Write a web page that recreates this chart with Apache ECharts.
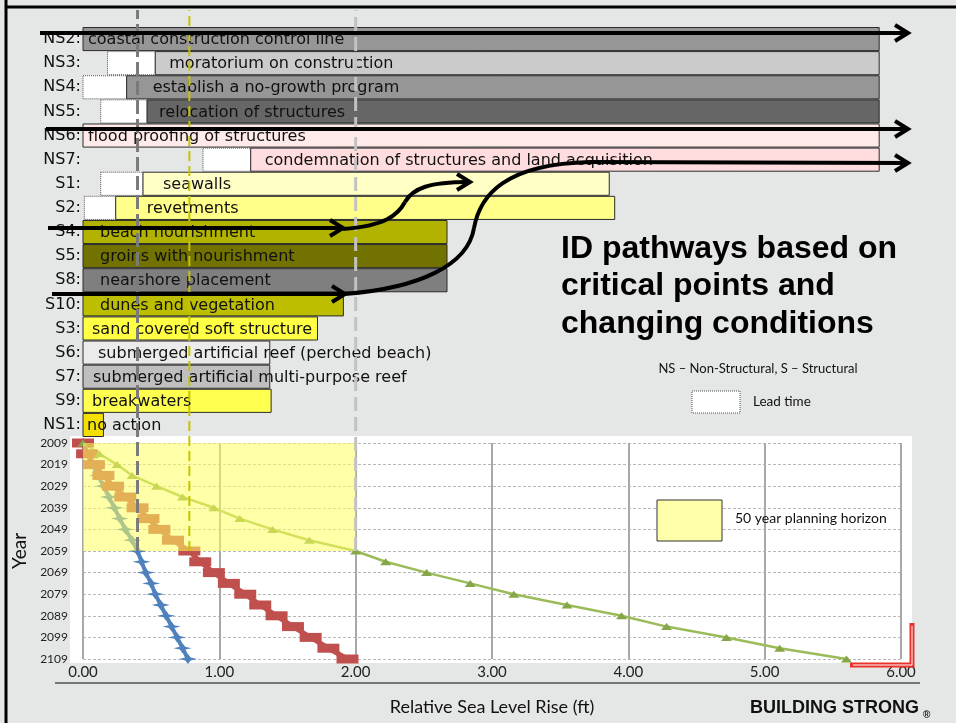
<!DOCTYPE html>
<html><head><meta charset="utf-8">
<script src="https://cdn.jsdelivr.net/npm/echarts@6/dist/echarts.min.js"></script>
<style>html,body{margin:0;padding:0;background:#e5e7e6;}#c{width:956px;height:723px;}</style>
</head><body><div id="c"></div>
<script>
// ---------- data ----------
const rowCodes = ['NS2','NS3','NS4','NS5','NS6','NS7','S1','S2','S4','S5','S8','S10','S3','S6','S7','S9','NS1'];
const rowNames = ['coastal construction control line','moratorium on construction','establish a no-growth program','relocation of structures','flood proofing of structures','condemnation of structures and land acquisition','seawalls','revetments','beach nourishment','groins with nourishment','nearshore placement','dunes and vegetation','sand covered soft structure','submerged artificial reef (perched beach)','submerged artificial multi-purpose reef','breakwaters','no action'];
const leadStart = [null,0.18,0.00,0.13,null,0.88,0.13,0.01,null,null,null,null,null,null,null,null,null];
const barStart  = [0,0.53,0.32,0.47,0,1.23,0.44,0.24,0,0,0,0,0,0,0,0,0];
const barEnd    = [5.84,5.84,5.84,5.84,5.84,5.84,3.86,3.90,2.67,2.67,2.67,1.91,1.72,1.37,1.37,1.38,0.15];

const years    = [2009,2014,2019,2024,2029,2034,2039,2044,2049,2054,2059,2064,2069,2074,2079,2084,2089,2094,2099,2104,2109];
const lowRise  = [0,0.03,0.07,0.11,0.15,0.19,0.23,0.27,0.31,0.36,0.40,0.43,0.46,0.50,0.53,0.57,0.61,0.65,0.69,0.73,0.77];
const intRise  = [0,0.03,0.08,0.15,0.22,0.31,0.40,0.48,0.56,0.66,0.78,0.86,0.96,1.07,1.19,1.30,1.42,1.54,1.67,1.80,1.94];
const highRise = [0,0.12,0.25,0.36,0.54,0.73,0.96,1.15,1.39,1.66,2.00,2.22,2.52,2.84,3.16,3.55,3.95,4.28,4.72,5.11,5.60];
const yearTicks = [2009,2019,2029,2039,2049,2059,2069,2079,2089,2099,2109];
const riseTicks = ['0.00','1.00','2.00','3.00','4.00','5.00','6.00'];
const horizonYear = 2059;

// ---------- styles ----------
const barColors = ['#969696','#cbcbcb','#969696','#666666','#ffeaea','#ffdcdd','#ffffc6','#ffff8a','#b2b200','#727200','#7f7f7f','#bebe00','#ffff44','#ebebeb','#bfbfbf','#ffff50','#f3e000'];
const labelIndent = [5,14,26,12,5,14,20,31,17,17,17,17,9,15,10,9,4];
const base = years[0];
const hIdx = years.indexOf(horizonYear);

const chart = echarts.init(document.getElementById('c'));
const rowData = rowCodes.map((c,i)=>[i, leadStart[i]==null?barStart[i]:leadStart[i], barStart[i], barEnd[i]]);
const toXY = arr => years.map((y,k)=>[arr[k], y-base]);

function renderRow(params, api){
  const i = api.value(0), ls = api.value(1), bs = api.value(2), be = api.value(3);
  const h = api.size([0,1])[1];
  const pL = api.coord([ls,i]), p0 = api.coord([bs,i]), p1 = api.coord([be,i]);
  const top = p0[1]-h/2+0.5, hh = h-1;
  const ch = [];
  if (bs > ls) ch.push({type:'rect',shape:{x:pL[0],y:top,width:p0[0]-pL[0],height:hh},style:{fill:'#ffffff',stroke:'#555',lineWidth:1,lineDash:[1,1]}});
  ch.push({type:'rect',shape:{x:p0[0],y:top,width:p1[0]-p0[0],height:hh},style:{fill:barColors[i],stroke:'#2b2b2b',lineWidth:1}});
  ch.push({type:'text',style:{text:rowNames[i],x:p0[0]+labelIndent[i],y:p0[1]+1,verticalAlign:'middle',align:'left',font:'16px "DejaVu Sans"',fill:'#111'}});
  return {type:'group',children:ch};
}
function renderHorizon(params, api){
  const a = api.coord([api.value(0), api.value(1)]);
  const b = api.coord([api.value(2), api.value(3)]);
  return {type:'rect',shape:{x:a[0],y:a[1],width:b[0]-a[0],height:b[1]-a[1]},style:{fill:'rgba(255,255,95,0.55)'}};
}

const starPath = 'path://M0,5 L7,3.6 L10,0 L13,3.6 L20,5 L13,6.4 L10,10 L7,6.4 Z';
const critLine = (x,color,width,dash)=>({type:'line',xAxisIndex:2,yAxisIndex:2,data:[[x,0],[x,1]],symbol:'none',silent:true,z:6,
  lineStyle:{color:color,width:width,type:dash}});

const stroke = {stroke:'#000',lineWidth:4,fill:null};
function arrowHead(tx,ty){return {type:'polyline',z:60,shape:{points:[[tx-13,ty-8],[tx,ty],[tx-13,ty+8]]},style:Object.assign({lineJoin:'miter'},stroke)};}
function seg(x1,y1,x2,y2){return {type:'line',z:60,shape:{x1,y1,x2,y2},style:stroke};}
function bez(x1,y1,cpx1,cpy1,cpx2,cpy2,x2,y2){return {type:'bezierCurve',z:60,shape:{x1,y1,cpx1,cpy1,cpx2,cpy2,x2,y2},style:stroke};}

const font1 = 'Lato';
chart.setOption({
  animation:false,
  backgroundColor:'#e5e7e6',
  grid:[
    {left:83,right:55,top:27,height:410},
    {left:83,right:55,top:443,height:216},
    {left:83,right:55,top:10,height:541}
  ],
  xAxis:[
    {gridIndex:0,type:'value',min:0,max:6,show:false},
    {gridIndex:1,type:'value',min:0,max:6,interval:1,
      axisLine:{show:false},axisTick:{show:false},
      axisLabel:{formatter:v=>riseTicks[Math.round(v)],fontFamily:font1,fontSize:15,color:'#222',margin:6},
      splitLine:{lineStyle:{color:'#a8a8a8',width:2}},
      name:'Relative Sea Level Rise (ft)',nameLocation:'middle',nameGap:39,
      nameTextStyle:{fontFamily:font1,fontSize:18,color:'#111'}},
    {gridIndex:2,type:'value',min:0,max:6,show:false}
  ],
  yAxis:[
    {gridIndex:0,type:'category',data:rowCodes,inverse:true,
      axisLine:{show:false},axisTick:{show:false},splitLine:{show:false},
      axisLabel:{formatter:v=>v+':',fontFamily:'DejaVu Sans',fontSize:16,color:'#111',margin:2}},
    {gridIndex:1,type:'value',min:0,max:100,interval:10,inverse:true,
      axisLine:{show:false},axisTick:{show:false},
      axisLabel:{formatter:v=>String(yearTicks[Math.round(v/10)]),fontFamily:font1,fontSize:12,color:'#222',margin:15},
      splitLine:{lineStyle:{color:'#b8b8b8',width:1,type:[3,2]}},
      name:'Year',nameLocation:'middle',nameGap:53,nameRotate:90,
      nameTextStyle:{fontFamily:font1,fontSize:19,color:'#111'}},
    {gridIndex:2,type:'value',min:0,max:1,show:false}
  ],
  series:[
    {type:'custom',xAxisIndex:0,yAxisIndex:0,data:rowData,renderItem:renderRow,z:2,silent:true},
    {type:'line',name:'low',xAxisIndex:1,yAxisIndex:1,data:toXY(lowRise),symbol:starPath,symbolSize:[18,10],
      lineStyle:{color:'#4f81bd',width:4},itemStyle:{color:'#4f81bd'},z:3},
    {type:'line',name:'int',xAxisIndex:1,yAxisIndex:1,data:toXY(intRise),symbol:'rect',symbolSize:[22,9],
      lineStyle:{color:'#c0504d',width:5},itemStyle:{color:'#c0504d'},z:3},
    {type:'line',name:'high',xAxisIndex:1,yAxisIndex:1,data:toXY(highRise),symbol:'triangle',symbolSize:[11,7],
      lineStyle:{color:'#9bbb59',width:2.5},itemStyle:{color:'#87a64a'},z:3},
    {type:'custom',xAxisIndex:1,yAxisIndex:1,silent:true,z:5,renderItem:renderHorizon,
      data:[[0,0,highRise[hIdx],horizonYear-base]]},
    critLine(lowRise[hIdx],'#7a7a7a',3,[14,5]),
    critLine(intRise[hIdx],'#c4c400',2,[10,5]),
    critLine(highRise[hIdx],'#c2c2c2',3,[14,6])
  ],
  graphic:[
    {type:'rect',z:-5,shape:{x:70,y:436,width:842,height:227},style:{fill:'#ffffff'}},
    {type:'line',z:1,shape:{x1:6,y1:0,x2:6,y2:723},style:{stroke:'#000',lineWidth:3}},
    {type:'line',z:1,shape:{x1:6,y1:7,x2:956,y2:7},style:{stroke:'#000',lineWidth:3}},
    {type:'line',z:1,shape:{x1:55,y1:683,x2:920,y2:683},style:{stroke:'#777',lineWidth:2}},
    // arrows
    seg(40,33,906,33), arrowHead(908,33),
    seg(46,129,906,129), arrowHead(908,129),
    seg(48,228,341,228), arrowHead(343,228),
    bez(343,229,385,226,398,215,405,202), bez(405,202,413,188,430,182,468,182), arrowHead(470,182),
    seg(52,294,343,294), arrowHead(345,294),
    bez(345,294,420,288,468,265,474,228), bez(474,228,480,195,505,164,590,162), seg(590,162,906,163), arrowHead(908,163),
    // right text
    {type:'text',z:20,style:{text:'ID pathways based on\ncritical points and\nchanging conditions',x:561,y:230,
      font:'bold 32px "Liberation Sans"',lineHeight:37.5,fill:'#000'}},
    {type:'text',z:20,style:{text:'NS – Non-Structural, S – Structural',x:758,y:369,align:'center',verticalAlign:'middle',font:'13px Lato',fill:'#111'}},
    {type:'rect',z:20,shape:{x:692,y:391,width:48,height:22},style:{fill:'#fff',stroke:'#555',lineWidth:1,lineDash:[1,1]}},
    {type:'text',z:20,style:{text:'Lead time',x:753,y:402,verticalAlign:'middle',font:'13.5px Lato',fill:'#111'}},
    {type:'rect',z:20,shape:{x:657,y:500,width:65,height:41},style:{fill:'#ffffaa',stroke:'#333',lineWidth:1}},
    {type:'text',z:20,style:{text:'50 year planning horizon',x:735,y:518,verticalAlign:'middle',font:'14px Lato',fill:'#111'}},
    {type:'text',z:20,style:{text:'BUILDING STRONG',x:750,y:708,verticalAlign:'middle',font:'bold 18px "Liberation Sans"',fill:'#111'}},
    {type:'text',z:20,style:{text:'®',x:923,y:715,verticalAlign:'middle',font:'bold 10px "Liberation Sans"',fill:'#111'}},
    // red bracket
    {type:'polyline',z:30,shape:{points:[[912,623],[912,665],[850,665]]},style:{stroke:'#e8322b',lineWidth:5,fill:null}},
    {type:'polyline',z:31,shape:{points:[[912,626],[912,665],[853,665]]},style:{stroke:'#ffffff',lineWidth:1,fill:null}}
  ]
});
</script></body></html>
